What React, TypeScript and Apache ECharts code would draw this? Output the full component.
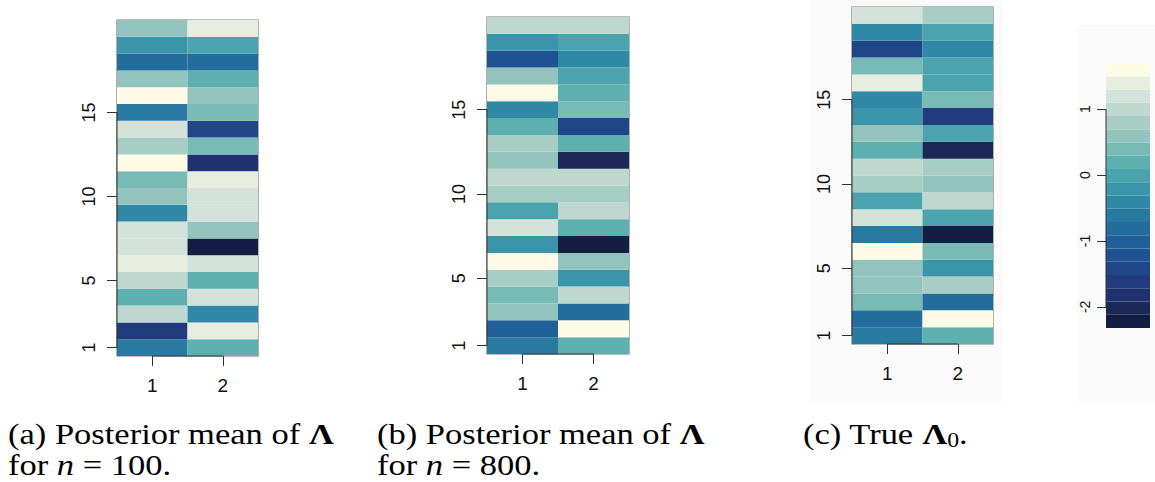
import React, { useEffect, useRef } from "react";
import * as echarts from "echarts";

// Colour scale (dark -> light), 20 equal bins between BREAK_MIN and BREAK_MAX
const PALETTE = [
  "#141e42", "#1b2858", "#203170", "#213b7e", "#20468a",
  "#1f5193", "#205f98", "#236d9c", "#287aa1", "#2e88a6",
  "#3a95aa", "#4ba3ad", "#5dafb0", "#78bab5", "#92c4bd",
  "#a8cdc5", "#bed8cf", "#d3e2da", "#e8eedf", "#fdfbe6",
];
const BREAK_MIN = -2.32;
const BREAK_MAX = 1.7;

// Values for rows 1..20 (bottom to top)
const A_COL1 = [-0.61, -1.62, 1.0, 0.19, 1.0, 1.4, 1.2, 1.2, -0.41, 0.59, 0.39, 1.6, 0.8, 1.2, -0.61, 1.6, 0.59, -0.81, -0.21, 0.59];
const A_COL2 = [0.19, 1.4, -0.41, 1.2, 0.19, 1.2, -2.22, 0.59, 1.2, 1.2, 1.4, -1.82, 0.39, -1.42, 0.39, 0.59, 0.19, -0.81, -0.01, 1.4];
const B_COL1 = [-0.61, -1.01, 0.59, 0.39, 0.8, 1.6, -0.21, 1.2, -0.01, 0.8, 1.0, 0.59, 0.8, 0.19, -0.41, 1.6, 0.59, -1.22, -0.21, 1.0];
const B_COL2 = [0.19, 1.6, -0.81, 1.0, -0.21, 0.59, -2.22, 0.19, 1.0, 0.8, 1.0, -2.02, 0.19, -1.42, 0.39, 0.19, -0.01, -0.41, -0.01, 1.0];
const C_COL1 = [-0.61, -0.81, 0.39, 0.59, 0.59, 1.6, -0.61, 1.2, -0.01, 0.8, 1.0, 0.19, 0.59, -0.21, -0.41, 1.4, 0.39, -1.42, -0.41, 1.2];
const C_COL2 = [0.19, 1.6, -0.81, 0.8, -0.21, 0.39, -2.22, -0.01, 1.0, 0.59, 0.8, -2.02, -0.01, -1.62, 0.39, -0.01, -0.01, -0.41, -0.01, 0.8];

const X_TICKS = [1, 2];
const Y_TICKS = [1, 5, 10, 15];
const CB_TICKS = [-2, -1, 0, 1];

const PANELS = [
  { cols: [A_COL1, A_COL2], left: 117, top: 20, width: 141, height: 336 },
  { cols: [B_COL1, B_COL2], left: 487, top: 17, width: 142, height: 337 },
  { cols: [C_COL1, C_COL2], left: 852, top: 7, width: 141, height: 337 },
];
const COLORBAR = { left: 1106, top: 63, width: 44, height: 265 };

const SANS = "'Liberation Sans', Arial, Helvetica, sans-serif";
const SERIF = "'Liberation Serif', 'Times New Roman', serif";

function colorOf(v: number): string {
  const step = (BREAK_MAX - BREAK_MIN) / PALETTE.length;
  let i = Math.floor((v - BREAK_MIN) / step);
  if (i < 0) i = 0;
  if (i > PALETTE.length - 1) i = PALETTE.length - 1;
  return PALETTE[i];
}

export default function App() {
  const ref = useRef<HTMLDivElement>(null);
  useEffect(() => {
    document.body.style.margin = "0";
    if (!ref.current) return;
    const chart = echarts.init(ref.current, null, { renderer: "svg" });

    const grids: any[] = [];
    const xAxes: any[] = [];
    const yAxes: any[] = [];
    const series: any[] = [];

    const tickStyle = { color: "#333", width: 1 };

    PANELS.forEach((p, gi) => {
      grids.push({
        left: p.left, top: p.top, width: p.width, height: p.height,
        show: true, borderColor: "#7d7d7d", borderWidth: 1.2, backgroundColor: "transparent",
      });
      xAxes.push({
        gridIndex: gi, type: "value", min: 0.5, max: 2.5,
        axisLine: { show: false },
        axisTick: { show: true, customValues: X_TICKS, length: 10, lineStyle: tickStyle },
        axisLabel: { customValues: X_TICKS, fontSize: 19, color: "#111", margin: 20, fontFamily: SANS },
        splitLine: { show: false },
      });
      yAxes.push({
        gridIndex: gi, type: "value", min: 0.5, max: 20.5,
        axisLine: { show: false },
        axisTick: { show: true, customValues: Y_TICKS, length: 10, lineStyle: tickStyle },
        axisLabel: { customValues: Y_TICKS, fontSize: 18, color: "#111", margin: 19, rotate: 90, fontFamily: SANS },
        splitLine: { show: false },
      });
      const data: any[] = [];
      p.cols.forEach((col, ci) => {
        col.forEach((v, ri) => data.push([ci + 1, ri + 1, v]));
      });
      series.push({
        type: "custom", xAxisIndex: gi, yAxisIndex: gi, data, silent: true,
        renderItem: (params: any, api: any) => {
          const x = api.value(0), y = api.value(1), v = api.value(2);
          const p0 = api.coord([x - 0.5, y + 0.5]);
          const p1 = api.coord([x + 0.5, y - 0.5]);
          return {
            type: "rect",
            shape: { x: p0[0], y: p0[1], width: p1[0] - p0[0], height: p1[1] - p0[1] },
            style: { fill: colorOf(v) },
          };
        },
      });
      // axis line segments spanning first to last tick (R style)
      series.push({
        type: "line", xAxisIndex: gi, yAxisIndex: gi, silent: true, symbol: "none", clip: false, z: 5,
        lineStyle: { color: "#333", width: 1 },
        data: [[0.5, Y_TICKS[0]], [0.5, Y_TICKS[Y_TICKS.length - 1]]],
      });
      series.push({
        type: "line", xAxisIndex: gi, yAxisIndex: gi, silent: true, symbol: "none", clip: false, z: 5,
        lineStyle: { color: "#333", width: 1 },
        data: [[X_TICKS[0], 0.5], [X_TICKS[X_TICKS.length - 1], 0.5]],
      });
    });

    // colour bar
    const cbi = PANELS.length;
    grids.push({ left: COLORBAR.left, top: COLORBAR.top, width: COLORBAR.width, height: COLORBAR.height });
    xAxes.push({ gridIndex: cbi, type: "value", min: 0, max: 1, show: false });
    yAxes.push({
      gridIndex: cbi, type: "value", min: BREAK_MIN, max: BREAK_MAX,
      axisLine: { show: false },
      axisTick: { show: true, customValues: CB_TICKS, length: 9, lineStyle: tickStyle },
      axisLabel: { customValues: CB_TICKS, fontSize: 14, color: "#111", margin: 14, rotate: 90, fontFamily: SANS },
      splitLine: { show: false },
    });
    const step = (BREAK_MAX - BREAK_MIN) / PALETTE.length;
    const bins = PALETTE.map((c, i) => [BREAK_MIN + i * step, BREAK_MIN + (i + 1) * step]);
    series.push({
      type: "custom", xAxisIndex: cbi, yAxisIndex: cbi, data: bins, silent: true,
      renderItem: (params: any, api: any) => {
        const lo = api.value(0), hi = api.value(1);
        const p0 = api.coord([0, hi]);
        const p1 = api.coord([1, lo]);
        return {
          type: "rect",
          shape: { x: p0[0], y: p0[1], width: p1[0] - p0[0], height: p1[1] - p0[1] },
          style: { fill: colorOf((lo + hi) / 2) },
        };
      },
    });
    series.push({
      type: "line", xAxisIndex: cbi, yAxisIndex: cbi, silent: true, symbol: "none", clip: false, z: 5,
      lineStyle: { color: "#333", width: 1 },
      data: [[0, CB_TICKS[0]], [0, CB_TICKS[CB_TICKS.length - 1]]],
    });

    const FS = 29;
    const rich = {
      r: { fontFamily: SERIF, fontSize: FS, color: "#000" },
      i: { fontFamily: SERIF, fontSize: FS, fontStyle: "italic", color: "#000" },
      b: { fontFamily: SERIF, fontSize: FS, fontWeight: "bold", color: "#000" },
      s: { fontFamily: SERIF, fontSize: 20, color: "#000", verticalAlign: "bottom", padding: [12, 0, 0, 0] },
    };
    const cap = (x: number, y: number, text: string) => ({
      type: "text", x, y, scaleX: 1.19, z: 10,
      style: { text, rich, verticalAlign: "middle", align: "left" },
    });

    chart.setOption({
      animation: false,
      grid: grids,
      xAxis: xAxes,
      yAxis: yAxes,
      series,
      graphic: [
        { type: "rect", x: 810, y: 0, shape: { width: 193, height: 401 }, style: { fill: "#fafafa" }, z: -10 },
        { type: "rect", x: 1077, y: 25, shape: { width: 78, height: 376 }, style: { fill: "#fafafa" }, z: -10 },
        cap(8, 434, "{r|(a) Posterior mean of }{b|Λ}"),
        cap(8, 465, "{r|for }{i|n}{r| = 100.}"),
        cap(377, 434, "{r|(b) Posterior mean of }{b|Λ}"),
        cap(377, 465, "{r|for }{i|n}{r| = 800.}"),
        cap(803, 434, "{r|(c) True }{b|Λ}{s|0}{r|.}"),
      ],
    });
    return () => chart.dispose();
  }, []);
  return <div ref={ref} style={{ width: 1155, height: 482 }} />;
}
